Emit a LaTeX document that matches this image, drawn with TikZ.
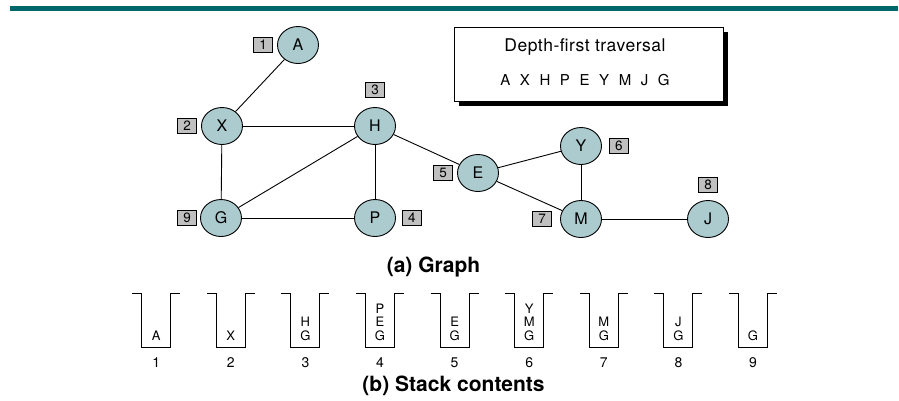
\documentclass[tikz,border=0pt]{standalone}
\usepackage{fontspec}
\setmainfont{TeX Gyre Heros}
\usetikzlibrary{positioning,shadows,shapes.geometric}
\definecolor{bar_teal}{RGB}{0,104,107}
\definecolor{node_blue}{RGB}{172,203,207}
\definecolor{box_grey}{RGB}{192,192,192}
\newcommand{\fsize}[1]{\fontsize{#1}{#1}\selectfont}

\begin{document}
\begin{tikzpicture}[x=1pt, y=-1pt,
    vertex/.style={draw, ellipse, fill=node_blue, line width=0.9pt, minimum width=41pt, minimum height=37pt, inner sep=0pt, font=\fsize{16}},
    order/.style={draw, rectangle, fill=box_grey, line width=0.8pt, minimum width=19pt, minimum height=15pt, inner sep=0pt, font=\fsize{13.5}},
    edge/.style={line width=0.9pt}]
            \useasboundingbox (0,0) rectangle (899,400);
            \fill[bar_teal] (10,6) rectangle (898,11);

            % Nodes
            \node[vertex] (A) at (298,45) {A};
            \node[vertex] (X) at (222,126) {X};
            \node[vertex] (H) at (375,126) {H};
            \node[vertex] (G) at (221,218) {G};
            \node[vertex] (P) at (375,218) {P};
            \node[vertex] (E) at (478,173) {E};
            \node[vertex] (Y) at (581,146) {Y};
            \node[vertex] (M) at (581,219) {M};
            \node[vertex] (J) at (708,219) {J};

            % Visit order
            \node[order, left=4pt of A] (oA) {1};
            \node[order, left=4pt of X] (oX) {2};
            \node[order, above=9pt of H] (oH) {3};
            \node[order, right=6pt of P] (oP) {4};
            \node[order, left=4pt of E] (oE) {5};
            \node[order, right=7pt of Y] (oY) {6};
            \node[order, left=8pt of M] (oM) {7};
            \node[order, above=7pt of J] (oJ) {8};
            \node[order, left=3pt of G] (oG) {9};

            % Edges
            \draw[edge] (A) -- (X);
            \draw[edge] (X) -- (H);
            \draw[edge] (X) -- (G);
            \draw[edge] (G) -- (H);
            \draw[edge] (H) -- (P);
            \draw[edge] (G) -- (P);
            \draw[edge] (H) -- (E);
            \draw[edge] (E) -- (Y);
            \draw[edge] (E) -- (M);
            \draw[edge] (Y) -- (M);
            \draw[edge] (M) -- (J);

            % Traversal box
            \node[draw, rectangle, fill=white, line width=0.9pt, minimum width=269pt, minimum height=74pt,
                  drop shadow={shadow xshift=5pt, shadow yshift=-5pt, fill=black, opacity=1}] (trav) at (588.5,64) {};
            \node[anchor=base, font=\fsize{17.5}\addfontfeature{LetterSpace=3}] (travtitle) at (585,51.7) {Depth-first traversal};
            \node[anchor=base, font=\fsize{15}] (travorder) at (585,85) {\spaceskip=9.6pt A X H P E Y M J G};

            \node[font=\bfseries\fsize{21}] (capa) at (433.5,267) {(a) Graph};

            % Stacks
            \foreach \i/\s in {1/A, 2/X, 3/{H\\G}, 4/{P\\E\\G}, 5/{E\\G}, 6/{Y\\M\\G}, 7/{M\\G}, 8/{J\\G}, 9/G} {
                \pgfmathsetmacro{\c}{156.2+74.6*(\i-1)}
                \draw[line width=0.9pt] (\c-24,293) -- (\c-14.5,293) -- (\c-14.5,347) -- (\c+14.5,347) -- (\c+14.5,293) -- (\c+24,293);
                \node[anchor=south, inner sep=0pt, align=center, font=\fontsize{13}{13.5}\selectfont] (s\i) at (\c,340.8) {\s};
                \node[anchor=base, font=\fsize{14}] (n\i) at (\c,367) {\i};
            }

            \node[font=\bfseries\fsize{21}] (capb) at (453.5,386) {(b) Stack contents};
        \end{tikzpicture}
\end{document}
